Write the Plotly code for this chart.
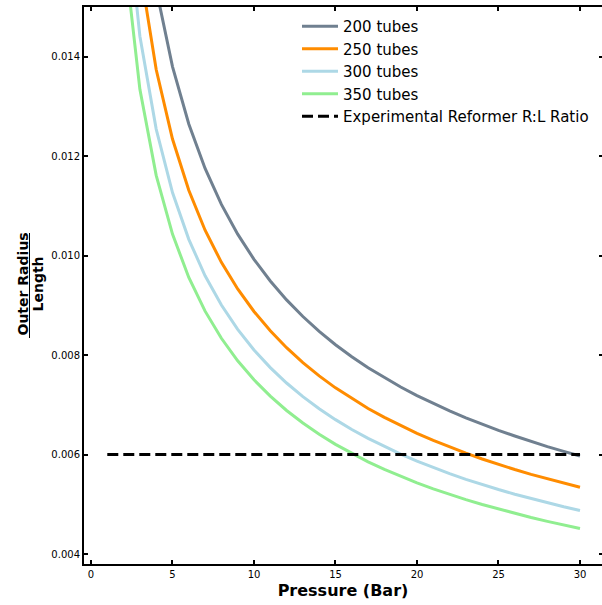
import plotly.graph_objects as go

pressure = list(range(1, 31))

tubes_200 = [0.030157, 0.021491, 0.017652, 0.015364, 0.013802, 0.012649, 0.011753, 0.011031,
             0.010432, 0.009926, 0.009491, 0.009111, 0.008776, 0.008477, 0.008209, 0.007967,
             0.007746, 0.007544, 0.007358, 0.007186, 0.007026, 0.006878, 0.006739, 0.006609,
             0.006487, 0.006373, 0.006264, 0.006161, 0.006064, 0.005972]
tubes_250 = [0.026973, 0.019222, 0.015788, 0.013742, 0.012345, 0.011314, 0.010512, 0.009866,
             0.009331, 0.008878, 0.008489, 0.008149, 0.007850, 0.007582, 0.007342, 0.007126,
             0.006928, 0.006748, 0.006581, 0.006427, 0.006284, 0.006152, 0.006028, 0.005911,
             0.005802, 0.005700, 0.005603, 0.005511, 0.005424, 0.005342]
tubes_300 = [0.024623, 0.017547, 0.014413, 0.012545, 0.011269, 0.010328, 0.009596, 0.009007,
             0.008518, 0.008105, 0.007749, 0.007439, 0.007166, 0.006921, 0.006703, 0.006505,
             0.006325, 0.006160, 0.006008, 0.005867, 0.005737, 0.005616, 0.005502, 0.005396,
             0.005297, 0.005204, 0.005115, 0.005030, 0.004951, 0.004876]
tubes_350 = [0.022797, 0.016246, 0.013344, 0.011614, 0.010433, 0.009562, 0.008884, 0.008339,
             0.007886, 0.007503, 0.007175, 0.006887, 0.006634, 0.006408, 0.006205, 0.006023,
             0.005855, 0.005703, 0.005562, 0.005432, 0.005311, 0.005199, 0.005094, 0.004996,
             0.004904, 0.004818, 0.004735, 0.004657, 0.004584, 0.004514]
experimental_ratio = 0.006

series_names = ["200 tubes", "250 tubes", "300 tubes", "350 tubes"]
series_values = [tubes_200, tubes_250, tubes_300, tubes_350]
series_colors = ["#708090", "#FF8C00", "#ADD8E6", "#90EE90"]

x_ticks = [0, 5, 10, 15, 20, 25, 30]
y_ticks = [0.004, 0.006, 0.008, 0.010, 0.012, 0.014]
y_range = [0.0038, 0.015]

FONT = "DejaVu Sans"

fig = go.Figure()
for name, vals, col in zip(series_names, series_values, series_colors):
    fig.add_trace(go.Scatter(x=pressure, y=vals, mode="lines", name=name,
                             line=dict(color=col, width=3)))
fig.add_trace(go.Scatter(x=[pressure[0], pressure[-1]], y=[experimental_ratio, experimental_ratio],
                         mode="lines", name="Experimental Reformer R:L Ratio",
                         line=dict(color="black", width=3, dash="11px,5px")))
# carrier for the right-hand tick marks (no visible marks)
fig.add_trace(go.Scatter(x=[None], y=[None], yaxis="y2", showlegend=False, hoverinfo="skip"))

W, H = 602, 605
ml, mr, mt, mb = 84, 0, 7, 41
pw = W - ml - mr
ph = H - mt - mb

fig.update_layout(
    width=W, height=H,
    margin=dict(l=ml, r=mr, t=mt, b=mb, autoexpand=False),
    paper_bgcolor="white", plot_bgcolor="white",
    font=dict(family=FONT, size=10, color="black"),
    showlegend=True,
    legend=dict(x=(297 - ml) / pw, y=1.0 - 3 / ph, xanchor="left", yanchor="top",
                bgcolor="rgba(0,0,0,0)", font=dict(size=15, family=FONT),
                tracegroupgap=0, itemwidth=36),
    xaxis=dict(range=[-0.429, 31.35], tickvals=x_ticks, ticktext=[str(v) for v in x_ticks],
               ticks="inside", ticklen=4, tickwidth=1.5, tickcolor="black",
               showline=True, linewidth=2, linecolor="black", mirror="ticks",
               showgrid=False, zeroline=False, tickfont=dict(size=10), automargin=False,
               title=dict(text="<b>Pressure (Bar)</b>", font=dict(size=16), standoff=6)),
    yaxis=dict(range=y_range, tickvals=y_ticks, ticktext=[f"{v:.3f}" for v in y_ticks],
               ticks="inside", ticklen=4, tickwidth=1.5, tickcolor="black",
               showline=True, linewidth=2, linecolor="black", mirror=False,
               showgrid=False, zeroline=False, tickfont=dict(size=10), automargin=False),
    yaxis2=dict(range=y_range, tickvals=y_ticks, overlaying="y", side="right", anchor="x",
                ticks="inside", ticklen=3, tickwidth=1.5, tickcolor="black",
                showline=False, showgrid=False, zeroline=False, showticklabels=False,
                automargin=False),
)

# y-axis label drawn as a fraction: Outer Radius / Length
fig.add_annotation(text="<b>Outer Radius</b>", xref="paper", yref="paper",
                   x=(22.5 - ml) / pw, y=1 - (284 - mt) / ph,
                   xanchor="center", yanchor="middle", textangle=-90, showarrow=False,
                   font=dict(size=14, family=FONT))
fig.add_annotation(text="<b>Length</b>", xref="paper", yref="paper",
                   x=(37.5 - ml) / pw, y=1 - (284 - mt) / ph,
                   xanchor="center", yanchor="middle", textangle=-90, showarrow=False,
                   font=dict(size=14, family=FONT))
fig.add_shape(type="line", xref="paper", yref="paper",
              x0=(29.5 - ml) / pw, x1=(29.5 - ml) / pw,
              y0=1 - (233 - mt) / ph, y1=1 - (338 - mt) / ph,
              line=dict(color="black", width=1))

fig.write_html("out.html")
